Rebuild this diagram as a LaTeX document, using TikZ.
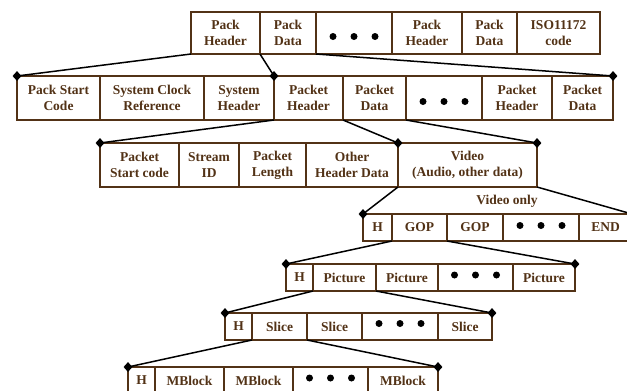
\documentclass[tikz,border=0pt]{standalone}
\usepackage{fontspec}
\setmainfont{Liberation Serif}
\usepackage{xcolor}
\usepackage{tikz}
\usetikzlibrary{positioning,shapes.geometric}
\definecolor{brn}{RGB}{82,50,22}
\tikzset{
  cell/.style={draw=brn, line width=1.6pt, text=brn, fill=white, font=\bfseries\fontsize{13.5}{16}\selectfont, align=center, inner sep=0pt, outer sep=0pt, minimum height=#1},
  cell/.default=27pt,
  dots/.style={path picture={\foreach \dx in {-1,0,1} \fill[black] ([xshift=\dx*21pt, yshift=#1]path picture bounding box.center) circle (3.5pt);}},
  lnk/.style={line width=1.5pt},
  dia/.style={diamond, fill=black, inner sep=0pt, minimum width=9pt, minimum height=10pt},
  lbl/.style={text=brn, font=\bfseries\fontsize{13.5}{16}\selectfont},
}

\begin{document}
\begin{tikzpicture}[x=1pt, y=-1pt, node distance=0pt]
\useasboundingbox (0,0) rectangle (627,391);
% pack level
\node[cell=42pt, anchor=north west, minimum width=69pt] (pkh) at (191,12) {Pack\\Header};
\node[cell=42pt, right=of pkh, minimum width=56pt] (pkd) {Pack\\Data};
\node[cell=42pt, right=of pkd, minimum width=76pt, dots=-3.5pt] (dots1) {};
\node[cell=42pt, right=of dots1, minimum width=70pt] (pkh2) {Pack\\Header};
\node[cell=42pt, right=of pkh2, minimum width=55pt] (pkd2) {Pack\\Data};
\node[cell=42pt, right=of pkd2, minimum width=83pt] (iso) {ISO11172\\code};
% pack header + data
\node[cell=44pt, anchor=north west, minimum width=83pt] (start) at (17,76) {Pack Start\\Code};
\node[cell=44pt, right=of start, minimum width=104pt] (scr) {System Clock\\Reference};
\node[cell=44pt, right=of scr, minimum width=70pt] (sysh) {System\\Header};
\node[cell=44pt, right=of sysh, minimum width=69pt] (pth) {Packet\\Header};
\node[cell=44pt, right=of pth, minimum width=63pt] (ptd) {Packet\\Data};
\node[cell=44pt, right=of ptd, minimum width=76pt, dots=-3.5pt] (dots2) {};
\node[cell=44pt, right=of dots2, minimum width=70pt] (pth2) {Packet\\Header};
\node[cell=44pt, right=of pth2, minimum width=61pt] (ptd2) {Packet\\Data};
% packet
\node[cell=44pt, anchor=north west, minimum width=79pt] (pstart) at (100,143) {Packet\\Start code};
\node[cell=44pt, right=of pstart, minimum width=60pt] (sid) {Stream\\ID};
\node[cell=44pt, right=of sid, minimum width=67pt] (plen) {Packet\\Length};
\node[cell=44pt, right=of plen, minimum width=92pt] (other) {Other\\Header Data};
\node[cell=44pt, right=of other, minimum width=139pt] (video) {Video\\(Audio, other data)};
% video sequence
\node[lbl] (vonly) at (507,201) {Video only};
\node[cell, anchor=north west, minimum width=29pt] (vh) at (363,214) {H};
\node[cell, right=of vh, minimum width=55pt] (gop) {GOP};
\node[cell, right=of gop, minimum width=56pt] (gop2) {GOP};
\node[cell, right=of gop2, minimum width=76pt, dots=2pt] (dots4) {};
\node[cell, right=of dots4, minimum width=53pt] (vend) {END};
% GOP
\node[cell, anchor=north west, minimum width=27pt] (gh) at (286,264) {H};
\node[cell, right=of gh, minimum width=63pt] (pic) {Picture};
\node[cell, right=of pic, minimum width=62pt] (pic2) {Picture};
\node[cell, right=of pic2, minimum width=75pt, dots=2.5pt] (dots5) {};
\node[cell, right=of dots5, minimum width=62pt] (pic3) {Picture};
% picture
\node[cell, anchor=north west, minimum width=27pt] (ph) at (225,313) {H};
\node[cell, right=of ph, minimum width=55pt] (slc) {Slice};
\node[cell, right=of slc, minimum width=55pt] (slc2) {Slice};
\node[cell, right=of slc2, minimum width=76pt, dots=3pt] (dots6) {};
\node[cell, right=of dots6, minimum width=54pt] (slc3) {Slice};
% slice
\node[cell, anchor=north west, minimum width=27pt] (sh) at (128,367) {H};
\node[cell, right=of sh, minimum width=69pt] (mb) {MBlock};
\node[cell, right=of mb, minimum width=69pt] (mb2) {MBlock};
\node[cell, right=of mb2, minimum width=75pt, dots=2.5pt] (dots7) {};
\node[cell, right=of dots7, minimum width=70pt] (mb3) {MBlock};
% corner marks
\node[dia] (d1) at (start.north west) {};  \node[dia] (d2) at (pth.north west) {};  \node[dia] (d3) at (ptd2.north east) {};
\node[dia] (d4) at (pstart.north west) {}; \node[dia] (d5) at (video.north west) {}; \node[dia] (d6) at (video.north east) {};
\node[dia] (d7) at (vh.north west) {};     \node[dia] (d8) at (vend.north east) {};
\node[dia] (d9) at (gh.north west) {};     \node[dia] (d10) at (pic3.north east) {};
\node[dia] (d11) at (ph.north west) {};    \node[dia] (d12) at (slc3.north east) {};
\node[dia] (d13) at (sh.north west) {};    \node[dia] (d14) at (mb3.north east) {};
% expansions
\foreach \a/\b in {pkh.south west/d1, pkd.south west/d2, pkd.south east/d3, pth.south west/d4, ptd.south west/d5, ptd.south east/d6, video.south west/d7, video.south east/d8, gop.south west/d9, gop.south east/d10, pic.south west/d11, pic.south east/d12, slc.south west/d13, slc.south east/d14}
  \draw[lnk] (\a) -- (\b.center);
\end{tikzpicture}
\end{document}
